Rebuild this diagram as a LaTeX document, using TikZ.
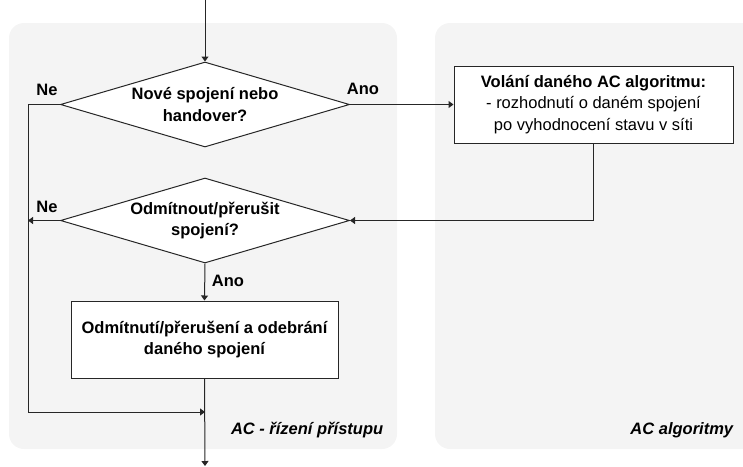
\documentclass[tikz,border=0pt]{standalone}
\usepackage{fontspec}
\setmainfont{Liberation Sans}
\usetikzlibrary{shapes.geometric,arrows.meta}
\definecolor{panelgray}{HTML}{F4F4F4}
\definecolor{linegray}{HTML}{262626}
\begin{document}
\begin{tikzpicture}[x=1pt,y=-1pt,
    line width=1pt,
    every node/.style={font=\fontsize{16.5}{21.5}\selectfont},
    flow/.style={draw=linegray,-{Triangle[length=5pt,width=7pt]}},
    decision/.style={shape=diamond,draw=linegray,fill=white,inner sep=0pt,aspect=3.4,
        minimum width=289pt,minimum height=85pt,align=center,font=\fontsize{16.5}{21.5}\selectfont\bfseries},
    process/.style={draw=linegray,fill=white,align=center,inner sep=0pt},
    answer/.style={font=\fontsize{16.5}{18}\selectfont\bfseries},
    panel/.style={fill=panelgray,rounded corners=15pt}]
    % Bounding box and panels
    \useasboundingbox (0,0) rectangle (743,466);
    \fill[panel] (9,23) rectangle (397,449);
    \fill[panel] (435,23) rectangle (758,449);
    \node[anchor=base east,font=\fontsize{16.5}{18}\selectfont\bfseries\itshape] (acpanel) at (387,434) {AC - řízení přístupu};
    \node[anchor=base east,font=\fontsize{16.5}{18}\selectfont\bfseries\itshape] (algpanel) at (737,434) {AC algoritmy};
    % Nodes
    \coordinate (start) at (205,0);
    \node[decision] (newconn) at (205,104.5) {Nové spojení nebo\\handover?};
    \node[process,minimum width=279pt,minimum height=77pt] (algcall) at (593.5,104.5)
        {\textbf{Volání daného AC algoritmu:}\\- rozhodnutí o daném spojení\\po vyhodnocení stavu v síti};
    \node[decision] (reject) at (205,220.5) {Odmítnout/přerušit\\spojení?};
    \node[process,minimum width=267pt,minimum height=77pt,font=\fontsize{16.5}{21.5}\selectfont\bfseries] (remove) at (204.5,339.5)
        {Odmítnutí/přerušení a odebrání\\daného spojení};
    \coordinate (leftrail) at (28,104.5);
    \coordinate (merge) at (205,412);
    \coordinate (finish) at (205,466);
    % Labels
    \node[answer] (ne1) at (47,90) {Ne};
    \node[answer] (ano1) at (363,89) {Ano};
    \node[answer] (ne2) at (47,207) {Ne};
    \node[answer] (ano2) at (228,281) {Ano};
    % Connectors
    \draw[flow] (start) -- (newconn.north);
    \draw[flow] (newconn.east) -- (algcall.west);
    \draw[flow] (algcall.south) |- (reject.east);
    \draw[flow] (reject.west) -- (leftrail |- reject.west);
    \draw[flow] (reject.south) -- (remove.north);
    \draw[flow] (newconn.west) -- (leftrail) |- (merge);
    \draw[flow] (remove.south) -- (finish);
\end{tikzpicture}
\end{document}
